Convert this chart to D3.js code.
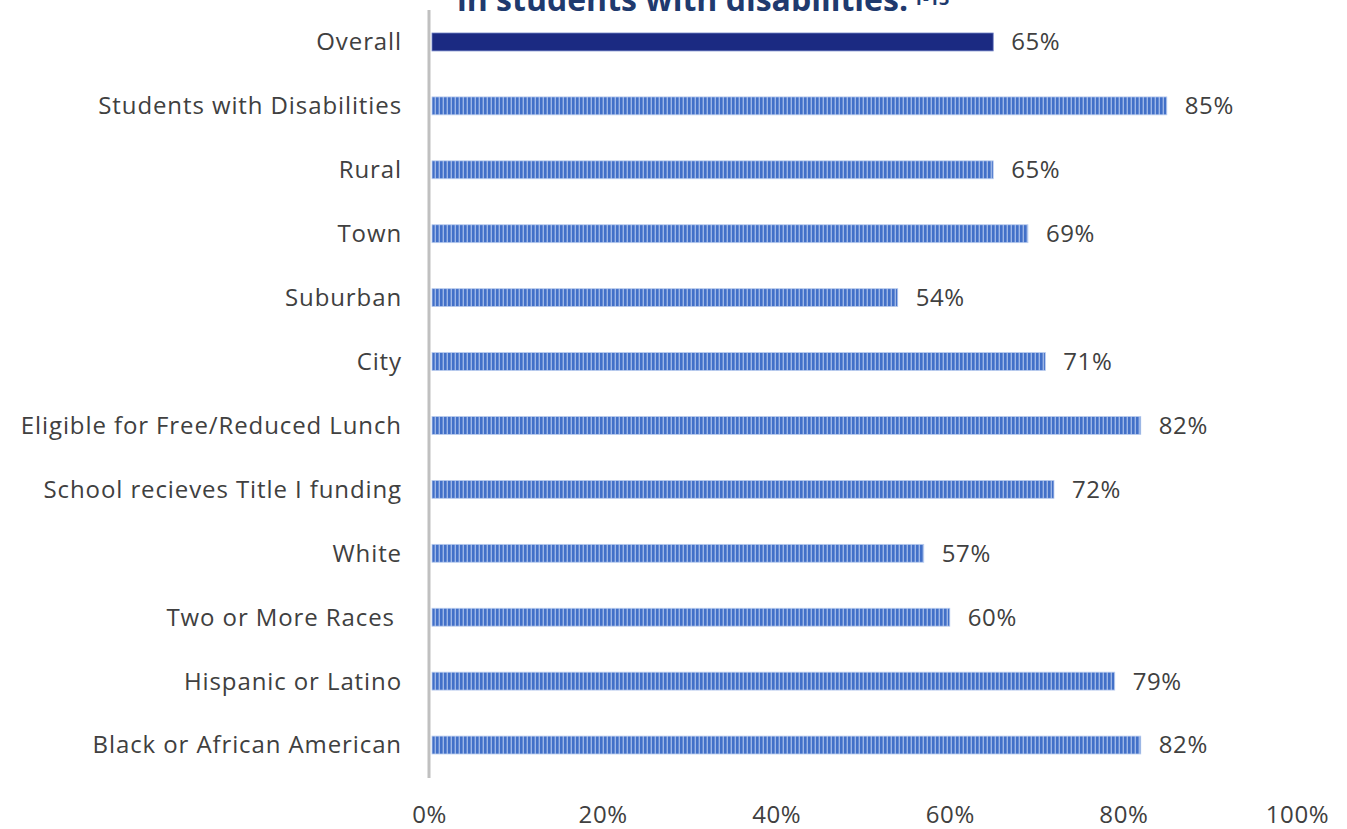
<!DOCTYPE html>
<html><head><meta charset="utf-8">
<script src="https://cdn.jsdelivr.net/npm/d3@7"></script>
<style>body{margin:0;background:#fff}svg{display:block}</style>
</head><body>
<svg id="c" width="1347" height="829"></svg>
<script>
const categories = ["Overall","Students with Disabilities","Rural","Town","Suburban","City","Eligible for Free/Reduced Lunch","School recieves Title I funding","White","Two or More Races ","Hispanic or Latino","Black or African American"];
const values = [65,85,65,69,54,71,82,72,57,60,79,82];
const tickValues = [0,20,40,60,80,100];
const titleText = "in students with disabilities.";

const svg = d3.select("#c");
const x = d3.scaleLinear().domain([0,100]).range([429,1297]);
const y = d3.scaleBand().domain(categories).range([10,777]).paddingInner(0.72).paddingOuter(0.36);
const FONT = "Open Sans, sans-serif";

const defs = svg.append("defs");
const pat = defs.append("pattern").attr("id","stripe").attr("patternUnits","userSpaceOnUse").attr("width",4).attr("height",10);
pat.append("rect").attr("width",4).attr("height",10).attr("fill","#9db6e6");
pat.append("rect").attr("width",2.6).attr("height",10).attr("fill","#4270c8");

// title (cropped at top, as in the reference)
const t = svg.append("text").attr("x",457).attr("y",11).attr("font-family",FONT)
  .attr("font-weight",700).attr("font-size",32).attr("fill","#1f3a6e").text(titleText);
t.append("tspan").attr("dy",-6).attr("font-size",18).text(" 1-13");

svg.append("g").selectAll("rect").data(categories).join("rect")
  .attr("x",x(0)+3).attr("y",d=>y(d)).attr("height",y.bandwidth())
  .attr("width",(d,i)=>x(values[i])-x(0)-3)
  .attr("fill",(d,i)=>i===0?"#1b2a82":"url(#stripe)")
  .attr("stroke",(d,i)=>i===0?"#6d7fc4":"#b8cbee").attr("stroke-width",0.8);

// axis line
svg.append("line").attr("x1",x(0)).attr("x2",x(0)).attr("y1",10).attr("y2",778)
  .attr("stroke","#c0c0c0").attr("stroke-width",3);

// category labels
svg.append("g").selectAll("text").data(categories).join("text")
  .attr("x",402).attr("y",d=>y(d)+y.bandwidth()/2).attr("dy","0.35em")
  .attr("text-anchor","end").attr("font-family",FONT).attr("font-size",24).attr("letter-spacing",0.9)
  .attr("fill","#404040").attr("xml:space","preserve").style("white-space","pre").text(d=>d);

// value labels
svg.append("g").selectAll("text").data(categories).join("text")
  .attr("x",(d,i)=>x(values[i])+18).attr("y",d=>y(d)+y.bandwidth()/2).attr("dy","0.35em")
  .attr("font-family",FONT).attr("font-size",24).attr("letter-spacing",0.6).attr("fill","#404040")
  .text((d,i)=>values[i]+"%");

// x axis
const xAxis = d3.axisBottom(x).tickValues(tickValues).tickFormat(d=>d+"%").tickSize(0).tickPadding(0);
const ga = svg.append("g").attr("transform","translate(0,806)").call(xAxis);
ga.select(".domain").remove();
ga.selectAll("text").attr("font-family",FONT).attr("font-size",24).attr("letter-spacing",0.6).attr("fill","#404040");
</script>
</body></html>
